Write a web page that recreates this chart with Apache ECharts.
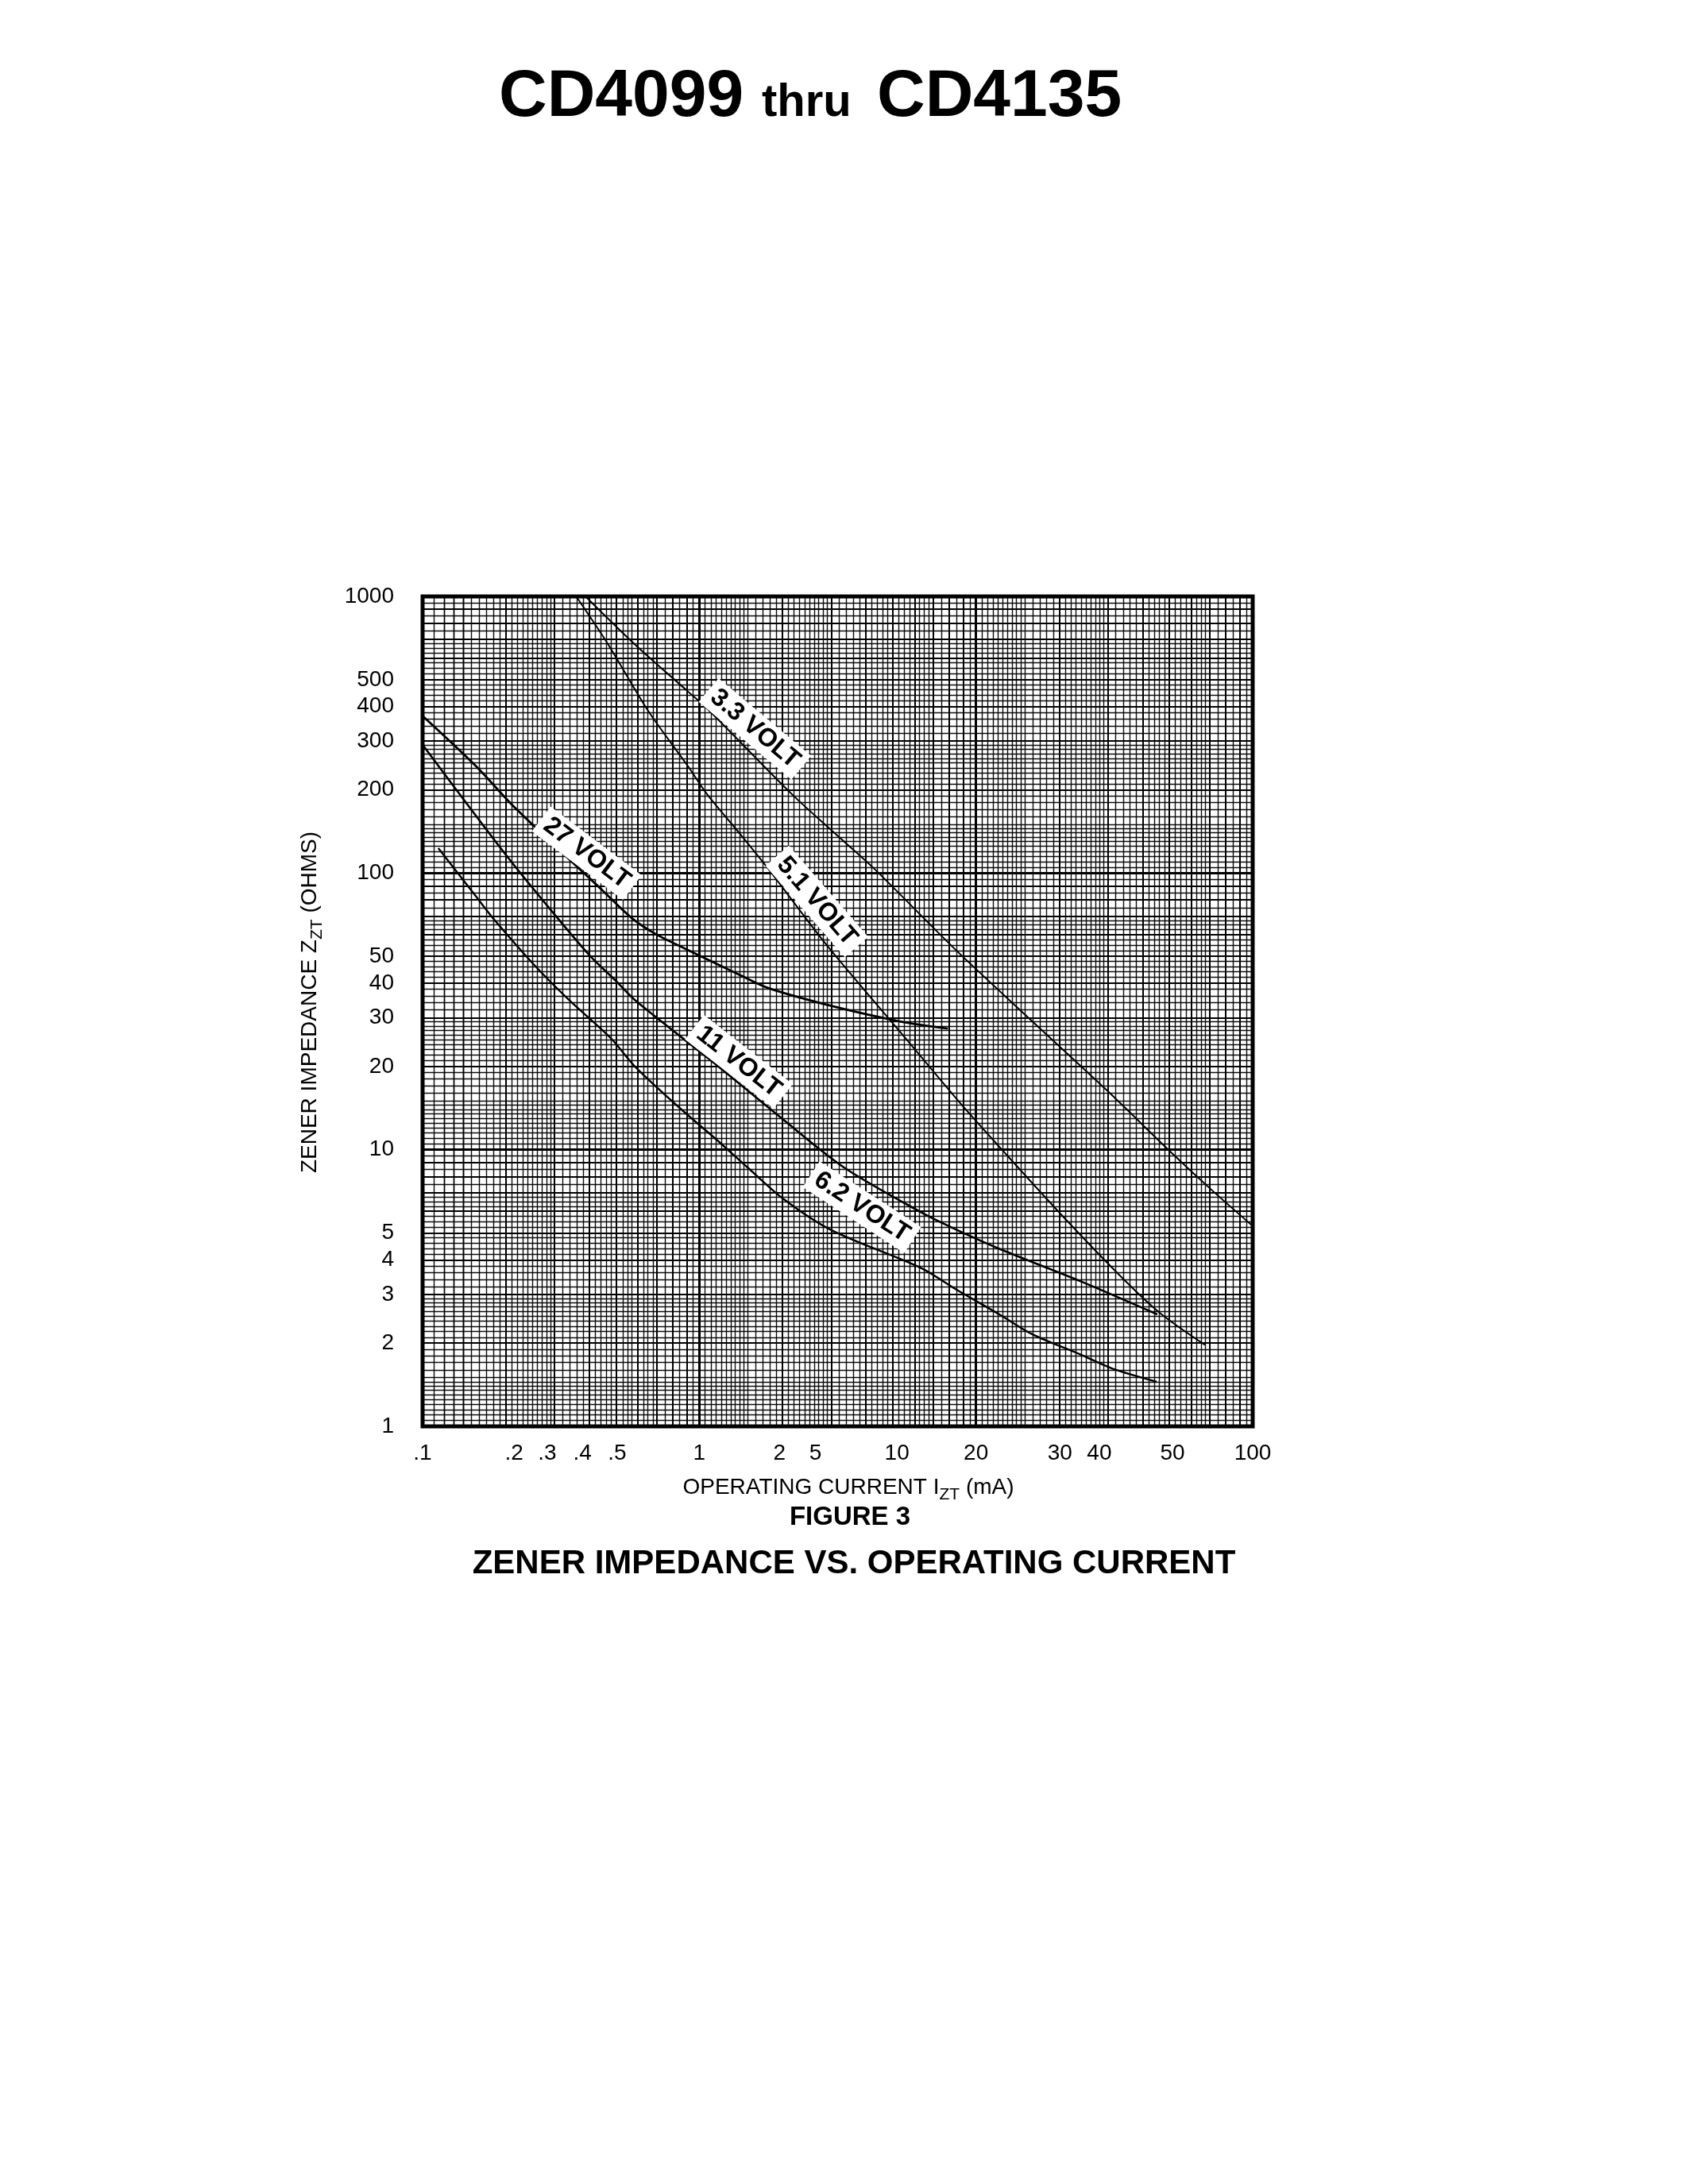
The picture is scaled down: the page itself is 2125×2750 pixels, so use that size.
<!DOCTYPE html>
<html>
<head>
<meta charset="utf-8">
<script src="https://cdn.jsdelivr.net/npm/echarts@6/dist/echarts.min.js"></script>
<style>
html,body{margin:0;padding:0;background:#fff;}
#c{width:2125px;height:2750px;}
</style>
</head>
<body>
<div id="c"></div>
<script>
// ---------- DATA (operating current in mA, zener impedance in ohms) ----------
const curve33 = [[0.388,1000],[0.583,673],[0.906,455],[1.057,397],[2.159,193],[3.044,141],[4.273,104],[8.28,53.8],[15.3,30.3],[29.7,16.4],[51.5,9.64],[72,7.07],[100,5.3]];
const curve51 = [[0.359,1000],[0.4675,673],[0.651,388],[0.906,245],[1.066,193],[1.408,138],[1.77,104],[2.85,55.8],[5.33,26.6],[8.84,14.6],[12.3,10.1],[20.0,5.93],[33.2,3.5],[46.2,2.57],[67.2,1.97]];
const curve27 = [[0.1,370],[0.155,245],[0.216,172],[0.45,86],[0.573,68.5],[0.7,60],[0.906,52.8],[1.408,42.7],[1.774,38.4],[3.11,32.8],[5.31,29.1],[7.92,27.4]];
const curve11 = [[0.1,291],[0.194,121],[0.286,75],[0.403,50.2],[0.497,41],[0.59,34.5],[1.09,21.2],[2.02,12.8],[3.35,8.6],[6.35,5.93],[8.28,5.2],[12.3,4.36],[23.8,3.35],[45.2,2.54]];
const curve62 = [[0.114,123],[0.155,83],[0.179,69],[0.252,46.8],[0.336,35],[0.479,25.3],[0.588,19.9],[0.86,14.0],[1.139,11.0],[1.5,8.6],[2.02,6.62],[3.0,5.12],[6.35,3.73],[8.28,3.17],[12.3,2.52],[16,2.15],[23.8,1.82],[31,1.62],[45,1.45]];

const curveNames = ['3.3 VOLT','5.1 VOLT','27 VOLT','11 VOLT','6.2 VOLT'];
// where each curve's label sits (data units)
const labelAt = [[1.589,332],[2.66,79.0],[0.392,118],[1.389,20.8],[3.87,6.2]];

// tick labels as printed on the original sheet, and where they are printed (mA)
const xTickText = ['.1','.2','.3','.4','.5','1','2','5','10','20','30','40','50','100'];
const xTickAt   = [0.1,0.214,0.282,0.378,0.505,1.0,1.95,2.63,5.18,10,20.1,27.9,51.3,100];
const yTickVals = [1,2,3,4,5,10,20,30,40,50,100,200,300,400,500,1000];

// graph paper rulings (mantissas within each decade)
const fineMantissa  = [1.05,1.1,1.15,1.2,1.25,1.3,1.35,1.4,1.45,1.5,1.6,1.7,1.8,1.9,2.1,2.2,2.3,2.4,2.5,2.6,2.7,2.8,2.9,3.2,3.4,3.6,3.8,4.2,4.4,4.6,4.8,5.25,5.5,5.75,6.25,6.5,6.75,7.5,8.5,9.5];
const majorMantissa = [2,3,4,5,6,7,8,9];
const xDecades = [0.1,1,10];
const yDecades = [1,10,100];

// ---------- CHART ----------
const FONT = '"Liberation Sans", Arial, Helvetica, sans-serif';
const chart = echarts.init(document.getElementById('c'), null, {renderer:'canvas'});

function rulings(key, decades, mant){
  const out = [];
  decades.forEach(d => mant.forEach(m => { const o = {}; o[key] = +(d*m).toPrecision(6); out.push(o); }));
  return out;
}
const fineLines  = rulings('xAxis', xDecades, fineMantissa).concat(rulings('yAxis', yDecades, fineMantissa));
const majorLines = rulings('xAxis', xDecades, majorMantissa).concat(rulings('yAxis', yDecades, majorMantissa));
const decadeLines = [{xAxis:1},{xAxis:10},{yAxis:10},{yAxis:100}];

function gridSeries(lines, width, opacity){
  return {
    type:'line', data:[[1,10]], showSymbol:false, symbol:'none', silent:true, z:1,
    lineStyle:{opacity:0}, animation:false,
    markLine:{
      silent:true, symbol:['none','none'], label:{show:false}, animation:false, z:1,
      emphasis:{disabled:true},
      lineStyle:{color:'#000', width:width, type:'solid', opacity:opacity},
      data: lines
    }
  };
}

const curveData = [curve33, curve51, curve27, curve11, curve62];
const curveWidth = [2, 2, 2.8, 2.6, 2.4];
const labelRot = [-40, -49, -37, -38, -33];

const curveSeries = curveData.map((d,i) => ({
  type:'line', name:curveNames[i], data:d, showSymbol:false, symbol:'none',
  smooth:0.3, z:10, animation:false,
  lineStyle:{color:'#000', width:curveWidth[i]},
  markPoint:{
    symbol:'rect', symbolSize:1, itemStyle:{color:'rgba(0,0,0,0)'}, z:20, animation:false,
    label:{show:true, position:'inside', formatter:curveNames[i], rotate:labelRot[i],
      fontSize:32, fontWeight:'bold', color:'#000', fontFamily:FONT,
      backgroundColor:'#fff', padding:[4,8,3,8]},
    data:[{coord:labelAt[i]}]
  }
}));

const xLog = xTickAt.map(v => Math.min(2, Math.max(-1, Math.log10(v))));
const yLog = yTickVals.map(v => Math.min(3, Math.max(0, Math.log10(v))));

const option = {
  backgroundColor:'#fff',
  animation:false,
  grid:{left:532, top:751, width:1045, height:1045, show:true, borderColor:'#000', borderWidth:5, backgroundColor:'#fff'},
  xAxis:[
    {type:'log', logBase:10, min:0.1, max:100, position:'bottom',
     axisLine:{show:false}, axisTick:{show:false}, axisLabel:{show:false}, splitLine:{show:false}, minorSplitLine:{show:false}},
    {type:'value', min:-1, max:2, position:'bottom',
     axisLine:{show:false}, axisTick:{show:false}, splitLine:{show:false},
     axisLabel:{customValues:xLog, margin:20, fontSize:28, color:'#000', fontFamily:FONT,
       formatter:function(v){ let b=0, bd=1e9; xLog.forEach((t,i)=>{const d=Math.abs(t-v); if(d<bd){bd=d;b=i;}}); return xTickText[b]; }}}
  ],
  yAxis:[
    {type:'log', logBase:10, min:1, max:1000, position:'left',
     axisLine:{show:false}, axisTick:{show:false}, axisLabel:{show:false}, splitLine:{show:false}, minorSplitLine:{show:false}},
    {type:'value', min:0, max:3, position:'left',
     axisLine:{show:false}, axisTick:{show:false}, splitLine:{show:false},
     axisLabel:{customValues:yLog, margin:36, fontSize:28, color:'#000', fontFamily:FONT,
       formatter:function(v){ return String(Math.round(Math.pow(10, v))); }}}
  ],
  series:[
    gridSeries(fineLines, 1.4, 0.95),
    gridSeries(majorLines, 2.0, 1),
    gridSeries(decadeLines, 3.0, 1)
  ].concat(curveSeries),
  graphic:[
    {type:'text', x:628, y:165, z:50,
     style:{text:'CD4099', align:'left', verticalAlign:'bottom', fontSize:84, fontWeight:'bold', fontFamily:FONT, fill:'#000'}},
    {type:'text', x:959, y:159, z:50,
     style:{text:'thru', align:'left', verticalAlign:'bottom', fontSize:58, fontWeight:'bold', fontFamily:FONT, fill:'#000'}},
    {type:'text', x:1104, y:165, z:50,
     style:{text:'CD4135', align:'left', verticalAlign:'bottom', fontSize:84, fontWeight:'bold', fontFamily:FONT, fill:'#000'}},
    {type:'text', x:390, y:1262, rotation:Math.PI/2, z:50,
     style:{text:'{m|ZENER IMPEDANCE Z}{s|ZT}{m| (OHMS)}', align:'center', verticalAlign:'middle',
       rich:{m:{fontSize:28, fontFamily:FONT, fill:'#000', lineHeight:40},
             s:{fontSize:21, fontFamily:FONT, fill:'#000', lineHeight:21, verticalAlign:'bottom'}}}},
    {type:'text', x:1068, y:1873, z:50,
     style:{text:'{m|OPERATING CURRENT I}{s|ZT}{m| (mA)}', align:'center', verticalAlign:'middle',
       rich:{m:{fontSize:28, fontFamily:FONT, fill:'#000', lineHeight:40},
             s:{fontSize:21, fontFamily:FONT, fill:'#000', lineHeight:21, verticalAlign:'bottom'}}}},
    {type:'text', x:1070, y:1911, z:50,
     style:{text:'FIGURE 3', align:'center', verticalAlign:'middle', fontSize:33, fontWeight:'bold', fontFamily:FONT, fill:'#000'}},
    {type:'text', x:1075, y:1969, z:50,
     style:{text:'ZENER IMPEDANCE VS. OPERATING CURRENT', align:'center', verticalAlign:'middle', fontSize:42, fontWeight:'bold', fontFamily:FONT, fill:'#000'}}
  ]
};
chart.setOption(option);
</script>
</body>
</html>
